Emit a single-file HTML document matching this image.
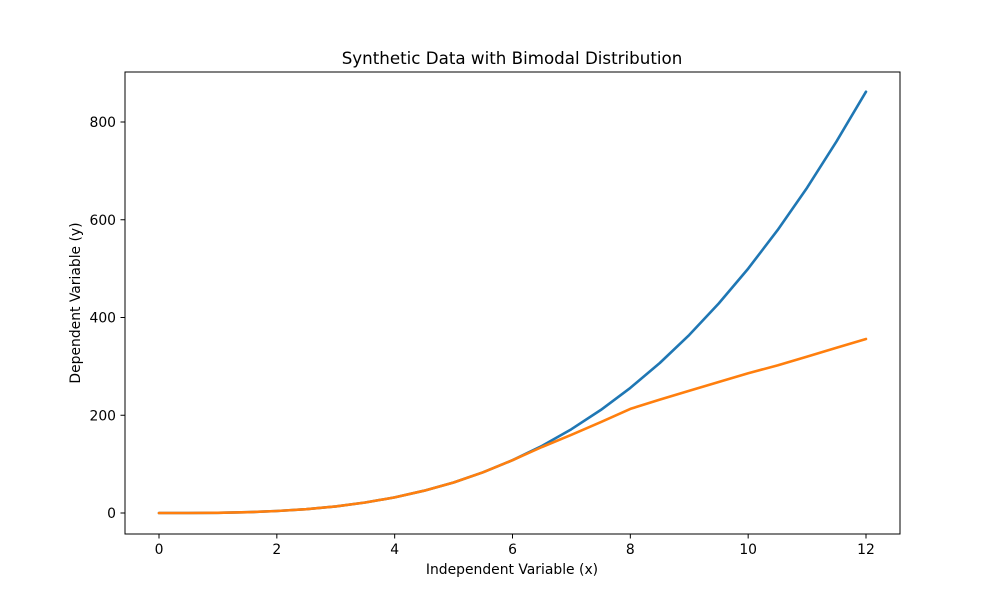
<!DOCTYPE html>
<html><head><meta charset="utf-8"><style>
body{margin:0;background:#fff;}
svg text{font-family:"DejaVu Sans","Liberation Sans",sans-serif;fill:#000;}
</style></head><body>
<svg id="chart" width="1000" height="600" xmlns="http://www.w3.org/2000/svg">
<rect width="1000" height="600" fill="#fff"/>
<text x="512" y="64" font-size="16.7" text-anchor="middle">Synthetic Data with Bimodal Distribution</text>
<g id="series"></g>
<rect x="125" y="72" width="775" height="462" fill="none" stroke="#000" stroke-width="1"/>
<g id="xticks"></g>
<g id="yticks"></g>
<text x="512" y="574" font-size="13.9" text-anchor="middle">Independent Variable (x)</text>
<text transform="translate(80,303) rotate(-90)" font-size="13.9" text-anchor="middle">Dependent Variable (y)</text>
</svg>
<script>
const xValues=[0,0.5,1,1.5,2,2.5,3,3.5,4,4.5,5,5.5,6,6.5,7,7.5,8,8.5,9,9.5,10,10.5,11,11.5,12];
const blueValues=[0,0.06,0.5,1.7,4,7.8,13.5,21.4,32,45.6,62.5,83.2,108,137.3,171.5,210.9,256,307,364.5,428.7,500,578.8,665.5,760.4,862];
const orangeValues=[0,0.06,0.5,1.7,4,7.8,13.5,21.4,32,45.6,62.5,83.2,108,135,160,186,213,232,250,268,286,302,320,338,356];
const xTicks=[0,2,4,6,8,10,12];
const yTicks=[0,200,400,600,800];
const NS="http://www.w3.org/2000/svg";
function sx(v){return 159+v*(866-159)/12;}
function sy(v){return 513-v*(513-122)/800;}
const g=document.getElementById('series');
function drawSeries(vals,color,name){
  const p=document.createElementNS(NS,'polyline');
  p.setAttribute('points',xValues.map((x,i)=>sx(x).toFixed(1)+','+sy(vals[i]).toFixed(1)).join(' '));
  p.setAttribute('fill','none');p.setAttribute('stroke',color);p.setAttribute('stroke-width','2.6');
  p.setAttribute('stroke-linejoin','round');p.setAttribute('stroke-linecap','round');
  
  
  g.appendChild(p);
}
drawSeries(blueValues,'#1f77b4','series-blue');
drawSeries(orangeValues,'#ff7f0e','series-orange');
const xg=document.getElementById('xticks');
xTicks.forEach(t=>{
  const l=document.createElementNS(NS,'line');
  l.setAttribute('x1',sx(t));l.setAttribute('x2',sx(t));l.setAttribute('y1',534);l.setAttribute('y2',538.5);l.setAttribute('stroke','#000');
  
  
  xg.appendChild(l);
  const tx=document.createElementNS(NS,'text');
  tx.setAttribute('x',sx(t));tx.setAttribute('y',554);tx.setAttribute('font-size','13.9');tx.setAttribute('text-anchor','middle');
  tx.textContent=t;
  
  
  xg.appendChild(tx);
});
const yg=document.getElementById('yticks');
yTicks.forEach(t=>{
  const l=document.createElementNS(NS,'line');
  l.setAttribute('x1',120.5);l.setAttribute('x2',125);l.setAttribute('y1',sy(t));l.setAttribute('y2',sy(t));l.setAttribute('stroke','#000');
  
  
  yg.appendChild(l);
  const tx=document.createElementNS(NS,'text');
  tx.setAttribute('x',116);tx.setAttribute('y',sy(t)+5);tx.setAttribute('font-size','13.9');tx.setAttribute('text-anchor','end');
  tx.textContent=t;
  
  
  yg.appendChild(tx);
});
</script>
</body></html>
